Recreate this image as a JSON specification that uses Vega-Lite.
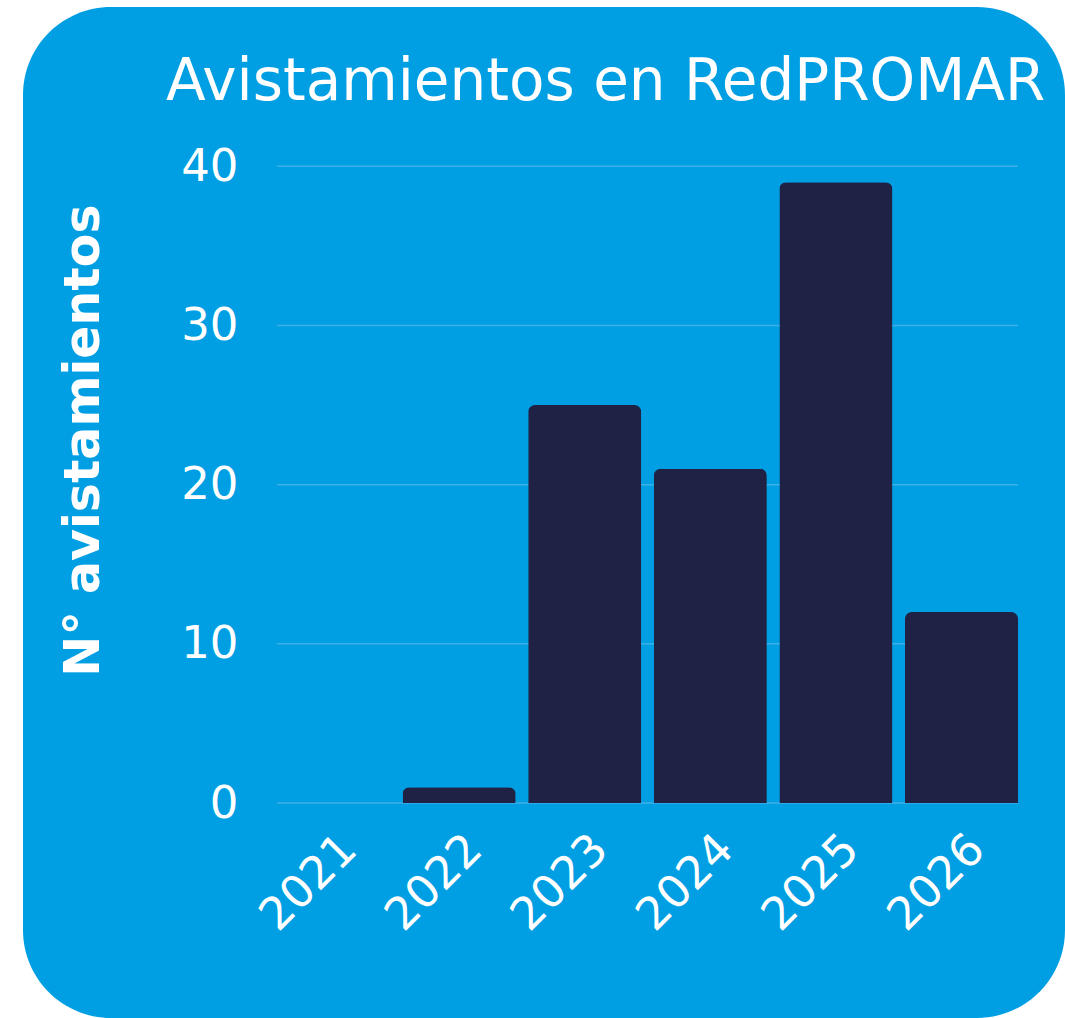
{
  "$schema": "https://vega.github.io/schema/vega-lite/v6.json",
  "autosize": {"type": "none"},
  "width": 1042,
  "height": 1011,
  "padding": {"left": 23, "top": 7, "right": 0, "bottom": 0},
  "background": "white",
  "config": {
    "view": {"fill": "#009fe3", "stroke": null, "cornerRadius": 88},
    "font": "DejaVu Sans"
  },
  "title": {
    "text": "Avistamientos en RedPROMAR",
    "anchor": "start",
    "frame": "group",
    "orient": "top",
    "dx": 143,
    "offset": -151,
    "baseline": "alphabetic",
    "fontSize": 58,
    "fontWeight": "normal",
    "font": "DejaVu Sans",
    "color": "white"
  },
  "datasets": {
    "bars": [
      {"year": "2021", "n": 0},
      {"year": "2022", "n": 1},
      {"year": "2023", "n": 25},
      {"year": "2024", "n": 21},
      {"year": "2025", "n": 39},
      {"year": "2026", "n": 12}
    ],
    "grid": [
      {"v": 0}, {"v": 10}, {"v": 20}, {"v": 30}, {"v": 40}
    ]
  },
  "layer": [
    {
      "data": {"name": "grid"},
      "mark": {"type": "rule", "color": "#3cb1e8", "strokeWidth": 1.5},
      "encoding": {
        "x": {"datum": "2021", "type": "nominal", "bandPosition": 0,
              "scale": {"type": "band", "domain": ["2021", "2022", "2023", "2024", "2025", "2026"], "paddingInner": 0.1, "paddingOuter": 0, "range": [254, 995]}},
        "x2": {"datum": "2026", "bandPosition": 1},
        "y": {"field": "v", "type": "quantitative",
              "scale": {"domain": [-13.5, 50], "nice": false, "zero": false}}
      }
    },
    {
      "data": {"name": "bars"},
      "mark": {"type": "bar", "color": "#1f2244", "cornerRadiusTopLeft": 7, "cornerRadiusTopRight": 7},
      "encoding": {
        "x": {
          "field": "year", "type": "nominal",
          "scale": {"type": "band", "domain": ["2021", "2022", "2023", "2024", "2025", "2026"], "paddingInner": 0.1, "paddingOuter": 0, "range": [254, 995]},
          "axis": {
            "title": null, "orient": "bottom", "offset": -215, "domain": false, "ticks": false, "grid": false,
            "labelAngle": -45, "labelAlign": "right", "labelBaseline": "top", "labelPadding": 23,
            "labelFontSize": 45, "labelFont": "DejaVu Sans", "labelColor": "white"
          }
        },
        "y": {
          "field": "n", "type": "quantitative",
          "scale": {"domain": [-13.5, 50], "nice": false, "zero": false},
          "axis": {
            "title": "N° avistamientos", "orient": "left", "offset": -215, "domain": false, "ticks": false, "grid": false,
            "values": [0, 10, 20, 30, 40], "labelPadding": 0, "labelAlign": "right", "labelBaseline": "middle",
            "labelFontSize": 45, "labelFont": "DejaVu Sans", "labelColor": "white",
            "titleFontSize": 49, "titleFont": "DejaVu Sans", "titleFontWeight": "bold", "titleColor": "white",
            "titleAngle": 270, "titleAlign": "center", "titleBaseline": "alphabetic", "titleX": -140, "titleY": 433
          }
        }
      }
    }
  ]
}
